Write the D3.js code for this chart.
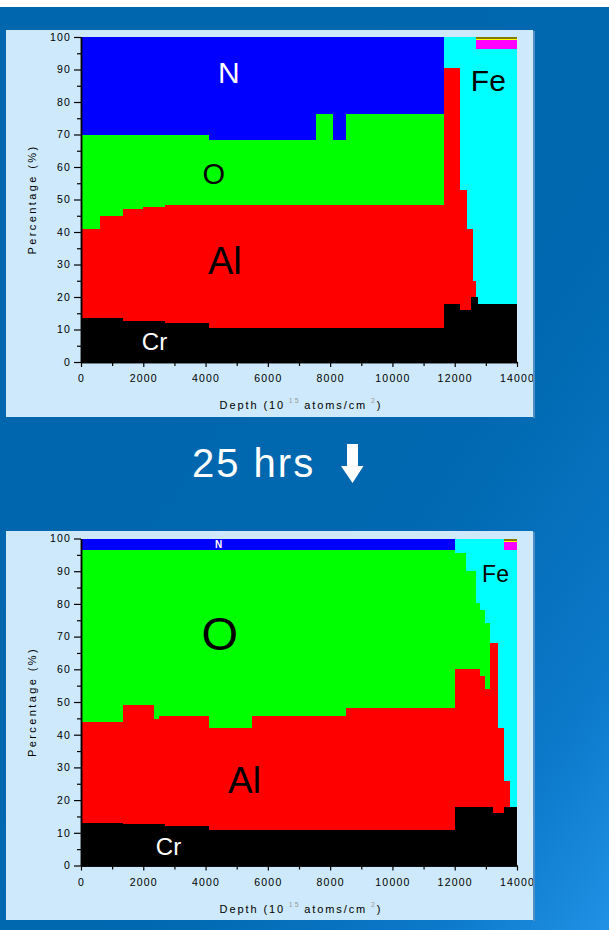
<!DOCTYPE html>
<html>
<head>
<meta charset="utf-8">
<script src="https://cdn.jsdelivr.net/npm/d3@7"></script>
<style>
  html, body { margin: 0; padding: 0; background: #0066ad; }
  svg { display: block; }
  text { font-family: "Liberation Sans", Arial, sans-serif; }
</style>
</head>
<body>
<svg id="chart" width="609" height="930"></svg>
<script>
// ── Data ─────────────────────────────────────────────────────────────────────
// stack order, bottom → top
const ELEMENTS = ['Cr', 'Al', 'O', 'N', 'Fe', 'Mg', 'Yl', 'Ol'];
const FILL = {
  Cr: '#000000', Al: '#ff0000', O: '#00ff00', N: '#0000ff',
  Fe: '#00ffff', Mg: '#ff00ff', Yl: '#ffff00', Ol: '#847c00',
};

const DEPTH_MAX = 14000;
const X_TICKS   = [0, 2000, 4000, 6000, 8000, 10000, 12000, 14000];
const X_MINOR   = [1000, 3000, 5000, 7000, 9000, 11000, 13000];
const Y_TICKS   = [0, 10, 20, 30, 40, 50, 60, 70, 80, 90, 100];
const Y_MINOR   = [5, 15, 25, 35, 45, 55, 65, 75, 85, 95];

// before oxidation (depth = start of each step, %)
const depthA = [0, 600, 1350, 2000, 2700, 4100, 7550, 8100, 8500, 11650, 12180, 12400, 12520, 12580, 12690, 12750];
const crA = [13.4, 13.4, 12.6, 12.6, 12.1, 10.6, 10.6, 10.6, 10.6, 17.8, 16, 16, 20, 20, 20, 17.8];
const alA = [27.6, 31.6, 34.4, 35.2, 36.2, 37.7, 37.7, 37.7, 37.7, 72.6, 37, 25, 21, 5, 0, 0];
const oA  = [29, 25, 23, 22.2, 21.7, 20, 28.1, 20, 28.1, 0, 0, 0, 0, 0, 0, 0];
const nA  = [30, 30, 30, 30, 30, 31.7, 23.6, 31.7, 23.6, 0, 0, 0, 0, 0, 0, 0];
const feA = [0, 0, 0, 0, 0, 0, 0, 0, 0, 9.6, 47, 59, 59, 75, 76.4, 78.6];
const mgA = [0, 0, 0, 0, 0, 0, 0, 0, 0, 0, 0, 0, 0, 0, 2.6, 2.6];
const ylA = [0, 0, 0, 0, 0, 0, 0, 0, 0, 0, 0, 0, 0, 0, 0.3, 0.3];
const olA = [0, 0, 0, 0, 0, 0, 0, 0, 0, 0, 0, 0, 0, 0, 0.7, 0.7];

// after 25 hrs
const depthB = [0, 1350, 2350, 2500, 2700, 4100, 5500, 8500, 12000, 12350, 12670, 12810, 12960, 13130, 13220, 13380, 13570, 13770];
const crB = [13, 12.6, 12.6, 12.6, 12.1, 10.8, 10.8, 10.8, 17.8, 17.8, 17.8, 17.8, 17.8, 17.8, 16, 16, 17.8, 17.8];
const alB = [30.8, 36.5, 32.2, 33.1, 33.6, 31.2, 34.9, 37.3, 42.2, 42.2, 42.2, 40.2, 36.1, 50.1, 51.9, 26, 8, 0];
const oB  = [52.6, 47.3, 51.6, 50.7, 50.7, 54.4, 50.7, 48.3, 35.7, 30.2, 20.4, 20.1, 20.2, 0, 0, 0, 0, 0];
const nB  = [3.6, 3.6, 3.6, 3.6, 3.6, 3.6, 3.6, 3.6, 0, 0, 0, 0, 0, 0, 0, 0, 0, 0];
const feB = [0, 0, 0, 0, 0, 0, 0, 0, 4.3, 9.8, 19.6, 21.9, 25.9, 32.1, 32.1, 58, 70.6, 78.6];
const mgB = [0, 0, 0, 0, 0, 0, 0, 0, 0, 0, 0, 0, 0, 0, 0, 0, 2.5, 2.5];
const ylB = [0, 0, 0, 0, 0, 0, 0, 0, 0, 0, 0, 0, 0, 0, 0, 0, 0.3, 0.3];
const olB = [0, 0, 0, 0, 0, 0, 0, 0, 0, 0, 0, 0, 0, 0, 0, 0, 0.8, 0.8];

// in-plot element labels: [text, depth, %, size, colour, weight]
const LABELS_A = [
  ['N',  4750, 89,   30, '#fff', 400],
  ['O',  4260, 58,   29, '#000', 400],
  ['Al', 4620, 31,   38, '#000', 400],
  ['Cr', 2360, 6.2,  24, '#fff', 400],
  ['Fe', 13080, 86.5, 30, '#000', 400],
];
const LABELS_B = [
  ['N',  4415, 98.2, 10, '#fff', 700],
  ['O',  4460, 71.1, 47, '#000', 400],
  ['Al', 5250, 26.1, 37, '#000', 400],
  ['Cr', 2810, 5.9,  24, '#fff', 400],
  ['Fe', 13310, 89,  23, '#000', 400],
];

function buildRows(depth, cols) {
  const rows = depth.map((d, i) => {
    const r = { depth: d };
    ELEMENTS.forEach((k, j) => { r[k] = cols[j][i]; });
    return r;
  });
  rows.push({ ...rows[rows.length - 1], depth: DEPTH_MAX });
  return rows;
}

const rowsA = buildRows(depthA, [crA, alA, oA, nA, feA, mgA, ylA, olA]);
const rowsB = buildRows(depthB, [crB, alB, oB, nB, feB, mgB, ylB, olB]);

// ── Page ─────────────────────────────────────────────────────────────────────
const svg = d3.select('#chart');
const defs = svg.append('defs');

const bg = defs.append('linearGradient').attr('id', 'bg-grad')
  .attr('x1', 0).attr('y1', 0).attr('x2', 1).attr('y2', 1);
bg.append('stop').attr('offset', '0%').attr('stop-color', '#0066ad');
bg.append('stop').attr('offset', '62%').attr('stop-color', '#0068b0');
bg.append('stop').attr('offset', '85%').attr('stop-color', '#0b78c8');
bg.append('stop').attr('offset', '100%').attr('stop-color', '#2091e6');

svg.append('rect').attr('width', 609).attr('height', 930).attr('fill', 'url(#bg-grad)');
svg.append('rect').attr('width', 609).attr('height', 7).attr('fill', '#ffffff');

function drawPanel(id, box, plot, rows, labels) {
  defs.append('clipPath').attr('id', `clip-${id}`)
    .append('rect').attr('x', box.x).attr('y', box.y).attr('width', box.w).attr('height', box.h);

  svg.append('rect')
    .attr('x', box.x + box.w).attr('y', box.y + 1).attr('width', 2).attr('height', box.h)
    .attr('fill', '#4f8fc6');

  const g = svg.append('g').attr('clip-path', `url(#clip-${id})`);
  g.append('rect').attr('x', box.x).attr('y', box.y).attr('width', box.w).attr('height', box.h)
    .attr('fill', '#cde9fb');

  const x = d3.scaleLinear().domain([0, DEPTH_MAX]).range([plot.left, plot.right]);
  const y = d3.scaleLinear().domain([0, 100]).range([plot.bottom, plot.top]);

  const series = d3.stack().keys(ELEMENTS)(rows);
  const area = d3.area()
    .curve(d3.curveStepAfter)
    .x(d => x(d.data.depth))
    .y0(d => y(d[0]))
    .y1(d => y(d[1]));

  g.append('g').selectAll('path').data(series).join('path')
    .attr('d', area)
    .attr('fill', d => FILL[d.key])
    .attr('shape-rendering', 'crispEdges');

  // element names
  g.append('g').selectAll('text').data(labels).join('text')
    .attr('x', d => x(d[1]))
    .attr('y', d => y(d[2]))
    .attr('text-anchor', 'middle')
    .attr('dominant-baseline', 'central')
    .attr('fill', d => d[4])
    .style('font-size', d => `${d[3]}px`)
    .style('font-weight', d => d[5])
    .text(d => d[0]);

  // axes
  const styleAxis = sel => {
    sel.select('.domain').attr('stroke', '#000').attr('stroke-width', 1.5);
    sel.selectAll('.tick line').attr('stroke', '#000').attr('stroke-width', 1.2);
    sel.selectAll('.tick text').attr('fill', '#000')
      .style('font-size', '10.5px').style('letter-spacing', '1.2px');
  };

  g.append('g').attr('transform', `translate(${plot.left},0)`)
    .call(d3.axisLeft(y).tickValues(Y_MINOR).tickSize(4).tickSizeOuter(0).tickFormat(''))
    .call(styleAxis);
  g.append('g').attr('transform', `translate(${plot.left},0)`)
    .call(d3.axisLeft(y).tickValues(Y_TICKS).tickSize(7).tickSizeOuter(0).tickPadding(3))
    .call(styleAxis);

  g.append('g').attr('transform', `translate(0,${plot.bottom})`)
    .call(d3.axisBottom(x).tickValues(X_MINOR).tickSize(4).tickSizeOuter(0).tickFormat(''))
    .call(styleAxis);
  g.append('g').attr('transform', `translate(0,${plot.bottom})`)
    .call(d3.axisBottom(x).tickValues(X_TICKS).tickSize(5).tickSizeOuter(0).tickPadding(8)
      .tickFormat(d3.format('d')))
    .call(styleAxis);

  // axis titles
  const midY = (plot.top + plot.bottom) / 2;
  g.append('text')
    .attr('transform', `translate(${box.x + 26},${midY}) rotate(-90)`)
    .attr('text-anchor', 'middle')
    .attr('dominant-baseline', 'central')
    .attr('fill', '#000')
    .style('font-size', '11px').style('letter-spacing', '2.4px')
    .text('Percentage (%)');

  const xt = g.append('text')
    .attr('x', 301).attr('y', plot.bottom + 47)
    .attr('text-anchor', 'middle')
    .attr('fill', '#000')
    .style('font-size', '11px').style('letter-spacing', '1.9px');
  xt.append('tspan').text('Depth (10');
  xt.append('tspan').attr('dy', -6).attr('fill', '#9a9a9a').style('font-size', '7px').text(' 15 ');
  xt.append('tspan').attr('dy', 6).text('atoms/cm');
  xt.append('tspan').attr('dy', -6).attr('fill', '#9a9a9a').style('font-size', '7px').text(' 2');
  xt.append('tspan').attr('dy', 6).text(')');
}

drawPanel('a', { x: 6, y: 30, w: 527, h: 387 },
  { left: 81, right: 517, top: 37, bottom: 362 }, rowsA, LABELS_A);

drawPanel('b', { x: 6, y: 531, w: 527, h: 389 },
  { left: 81, right: 517, top: 538.5, bottom: 865.5 }, rowsB, LABELS_B);

// "25 hrs" with down arrow
svg.append('text')
  .attr('x', 192).attr('y', 477)
  .attr('fill', '#ffffff')
  .style('font-size', '40px')
  .style('letter-spacing', '2px')
  .text('25 hrs');

svg.append('path')
  .attr('d', 'M347,444 L358,444 L358,466 L363.5,466 L352.5,483 L341,466 L347,466 Z')
  .attr('fill', '#ffffff');
</script>
</body>
</html>
